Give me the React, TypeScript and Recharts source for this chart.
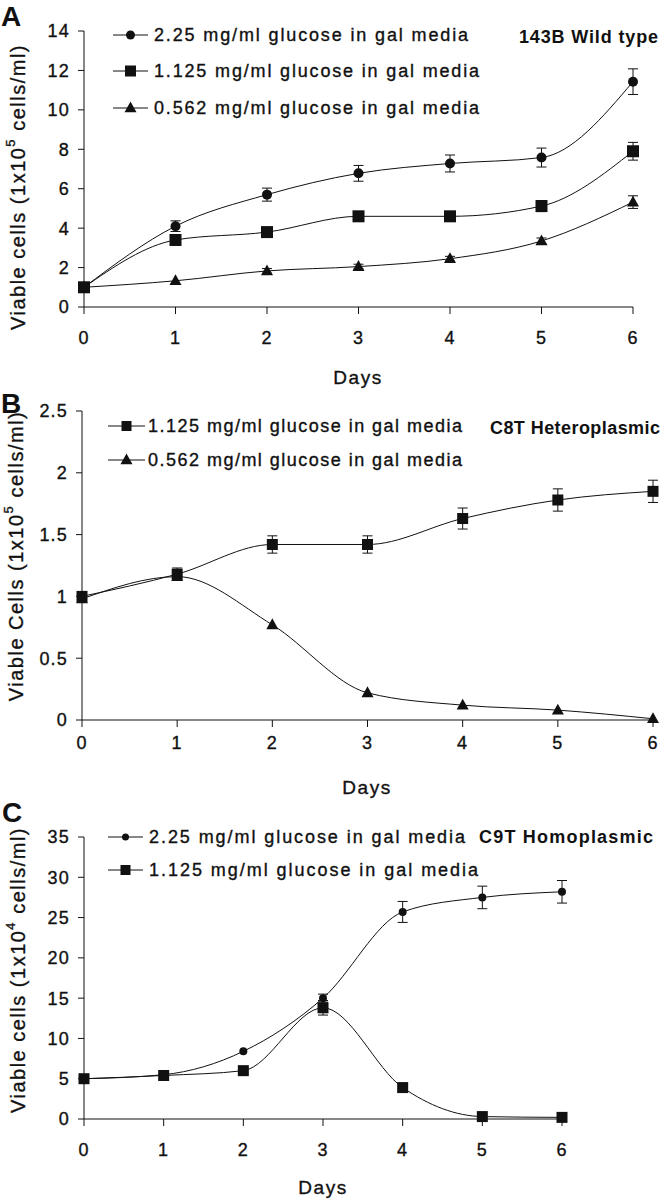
import React from "react";
import { LineChart, Line, XAxis, YAxis, ErrorBar } from "recharts";

const days = [0, 1, 2, 3, 4, 5, 6];

const legendNames = [
  "2.25 mg/ml glucose in gal media",
  "1.125 mg/ml glucose in gal media",
  "0.562 mg/ml glucose in gal media",
];

const panelTitles = ["143B Wild type", "C8T Heteroplasmic", "C9T Homoplasmic"];
const panelLetters = ["A", "B", "C"];

// A: 143B wild type (x10^5 cells/ml)
const wt225 = [1.0, 4.1, 5.7, 6.78, 7.28, 7.58, 11.43];
const wt225Err = [null, 0.27, 0.33, 0.4, 0.43, 0.48, 0.65];
const wt1125 = [1.0, 3.4, 3.8, 4.6, 4.6, 5.12, 7.9];
const wt1125Err = [null, 0.2, 0.15, 0.2, 0.2, 0.28, 0.45];
const wt0562 = [1.0, 1.33, 1.83, 2.05, 2.45, 3.35, 5.32];
const wt0562Err = [null, null, 0.12, 0.12, 0.12, 0.15, 0.32];

// B: C8T heteroplasmic (x10^5 cells/ml)
const het1125 = [1.0, 1.18, 1.42, 1.42, 1.63, 1.78, 1.85];
const het1125Err = [null, 0.05, 0.07, 0.07, 0.085, 0.09, 0.09];
const het0562 = [0.98, 1.16, 0.77, 0.22, 0.12, 0.08, 0.01];
const het0562Err = [null, null, null, null, null, null, null];

// C: C9T homoplasmic (x10^4 cells/ml)
const hom225 = [5.0, 5.5, 8.4, 15.0, 25.7, 27.5, 28.2];
const hom225Err = [null, null, null, 0.5, 1.3, 1.4, 1.4];
const hom1125 = [5.0, 5.4, 6.0, 13.8, 3.9, 0.3, 0.2];
const hom1125Err = [null, null, 0.3, 0.9, null, null, null];

const ticksA = [0, 2, 4, 6, 8, 10, 12, 14];
const ticksB = [0, 0.5, 1, 1.5, 2, 2.5];
const ticksC = [0, 5, 10, 15, 20, 25, 30, 35];

const FONT = "'Liberation Sans', Arial, Helvetica, sans-serif";
const INK = "#111";
const W = 661;
// thin outline to give the text the heavier look of the scanned figure
const HEAVY = { stroke: INK, strokeWidth: 0.35 };

type Shape = "circle" | "square" | "triangle";

const Mark = ({ shape, x, y, size }: { shape: Shape; x: number; y: number; size: number }) => {
  if (shape === "circle") return <circle cx={x} cy={y} r={size / 2} fill={INK} />;
  if (shape === "square")
    return <rect x={x - size / 2} y={y - size / 2} width={size} height={size} fill={INK} />;
  const h = size * 0.9;
  return (
    <polygon
      points={`${x},${y - h * 0.6} ${x - size / 2},${y + h * 0.4} ${x + size / 2},${y + h * 0.4}`}
      fill={INK}
    />
  );
};

const dotFor = (shape: Shape, size: number) => (props: any) => {
  const { cx, cy, index } = props;
  if (cx == null || cy == null) return <g key={`e-${shape}-${index}`} />;
  return (
    <g key={`d-${shape}-${index}`}>
      <Mark shape={shape} x={cx} y={cy} size={size} />
    </g>
  );
};

interface SeriesDef {
  key: string;
  values: number[];
  errors: (number | null)[];
  shape: Shape;
  size: number;
}

interface PanelProps {
  series: SeriesDef[];
  ticks: number[];
  top: number;
  height: number;
  plotTop: number;
  plotBottom: number;
  left: number;
  right: number;
  xTickMargin: number;
}

const tickStyle = { fill: INK, fontSize: 18, fontFamily: FONT, letterSpacing: 1.2, ...HEAVY };

const Panel = ({ series, ticks, top, height, plotTop, plotBottom, left, right, xTickMargin }: PanelProps) => {
  const data = days.map((d, i) => {
    const row: any = { day: d };
    series.forEach((s) => {
      row[s.key] = s.values[i];
      row[s.key + "Err"] = s.errors[i];
    });
    return row;
  });

  return (
    <div style={{ position: "absolute", top, left: 0 }}>
      <LineChart
        width={W}
        height={height}
        data={data}
        margin={{
          top: plotTop - top,
          right: W - right,
          bottom: height - (plotBottom - top) - 30,
          left: 0,
        }}
      >
        <XAxis
          dataKey="day"
          type="number"
          domain={[0, 6]}
          ticks={days}
          interval={0}
          height={30}
          tickSize={7}
          tickMargin={xTickMargin}
          stroke={INK}
          tick={tickStyle}
        />
        <YAxis
          type="number"
          domain={[0, ticks[ticks.length - 1]]}
          ticks={ticks}
          interval={0}
          width={left}
          tickSize={6}
          tickMargin={8}
          stroke={INK}
          tick={tickStyle}
        />
        {series.map((s) => (
          <Line
            key={s.key}
            dataKey={s.key}
            type="monotone"
            stroke={INK}
            strokeWidth={1}
            dot={dotFor(s.shape, s.size)}
            activeDot={false}
            isAnimationActive={false}
          >
            <ErrorBar dataKey={s.key + "Err"} width={5} stroke={INK} strokeWidth={1} direction="y" />
          </Line>
        ))}
      </LineChart>
    </div>
  );
};

interface LegendRow {
  name: string;
  shape: Shape;
  size: number;
  y: number;
  len: number;
}

const Legend = ({ rows, x0, x1, textX }: { rows: LegendRow[]; x0: number; x1: number; textX: number }) => (
  <g>
    {rows.map((r) => (
      <g key={r.name + r.y}>
        <line x1={x0} x2={x1} y1={r.y} y2={r.y} stroke={INK} strokeWidth={1} />
        <Mark shape={r.shape} x={(x0 + x1) / 2} y={r.y} size={r.size} />
        <text
          x={textX}
          y={r.y}
          dominantBaseline="central"
          fontSize={18}
          textLength={r.len}
          lengthAdjust="spacing"
          fill={INK}
          {...HEAVY}
        >
          {r.name}
        </text>
      </g>
    ))}
  </g>
);

const YLabel = ({ cx, cy, word, exp }: { cx: number; cy: number; word: string; exp: string }) => (
  <text
    transform={`translate(${cx},${cy}) rotate(-90)`}
    textAnchor="middle"
    dominantBaseline="central"
    fontSize={20}
    letterSpacing={1.5}
    fill={INK}
    {...HEAVY}
  >
    <tspan>{`Viable ${word} (1x10`}</tspan>
    <tspan dy={-8} fontSize={13}>
      {exp}
    </tspan>
    <tspan dy={8}>{" cells/ml)"}</tspan>
  </text>
);

const Overlay = () => (
  <svg
    width={W}
    height={1199}
    style={{ position: "absolute", top: 0, left: 0, pointerEvents: "none" }}
    fontFamily={FONT}
  >
    {/* panel letters */}
    <text x={1} y={26} fontSize={28} fontWeight="bold" fill={INK}>
      {panelLetters[0]}
    </text>
    <text x={1} y={413} fontSize={28} fontWeight="bold" fill={INK}>
      {panelLetters[1]}
    </text>
    <text x={2} y={822} fontSize={28} fontWeight="bold" fill={INK}>
      {panelLetters[2]}
    </text>

    {/* titles */}
    <text x={519} y={37} dominantBaseline="central" fontSize={18} fontWeight="bold" textLength={139} lengthAdjust="spacing" fill={INK}>
      {panelTitles[0]}
    </text>
    <text x={490} y={428} dominantBaseline="central" fontSize={18} fontWeight="bold" textLength={170} lengthAdjust="spacing" fill={INK}>
      {panelTitles[1]}
    </text>
    <text x={479} y={837} dominantBaseline="central" fontSize={18} fontWeight="bold" textLength={174} lengthAdjust="spacing" fill={INK}>
      {panelTitles[2]}
    </text>

    {/* legends */}
    <Legend
      x0={113}
      x1={148}
      textX={154}
      rows={[
        { name: legendNames[0], shape: "circle", size: 9, y: 35, len: 314 },
        { name: legendNames[1], shape: "square", size: 11, y: 71, len: 325 },
        { name: legendNames[2], shape: "triangle", size: 12, y: 108, len: 325 },
      ]}
    />
    <Legend
      x0={108}
      x1={145}
      textX={148}
      rows={[
        { name: legendNames[1], shape: "square", size: 10, y: 426, len: 314 },
        { name: legendNames[2], shape: "triangle", size: 12, y: 460, len: 314 },
      ]}
    />
    <Legend
      x0={108}
      x1={143}
      textX={149}
      rows={[
        { name: legendNames[0], shape: "circle", size: 7, y: 837, len: 316 },
        { name: legendNames[1], shape: "square", size: 10, y: 870, len: 329 },
      ]}
    />

    {/* axis titles */}
    <YLabel cx={18} cy={187} word="cells" exp="5" />
    <YLabel cx={16} cy={556} word="Cells" exp="5" />
    <YLabel cx={18} cy={970} word="cells" exp="4" />

    <text x={358} y={377} textAnchor="middle" dominantBaseline="central" fontSize={19} letterSpacing={1.5} fill={INK} {...HEAVY}>
      Days
    </text>
    <text x={367} y={787} textAnchor="middle" dominantBaseline="central" fontSize={19} letterSpacing={1.5} fill={INK} {...HEAVY}>
      Days
    </text>
    <text x={323} y={1187} textAnchor="middle" dominantBaseline="central" fontSize={19} letterSpacing={1.5} fill={INK} {...HEAVY}>
      Days
    </text>
  </svg>
);

export default function App() {
  return (
    <div
      style={{
        position: "absolute",
        top: 0,
        left: 0,
        width: W,
        height: 1199,
        background: "#fff",
        fontFamily: FONT,
        overflow: "hidden",
      }}
    >
      <Panel
        top={0}
        height={395}
        plotTop={31}
        plotBottom={307}
        left={84}
        right={633}
        ticks={ticksA}
        xTickMargin={17}
        series={[
          { key: "wt225", values: wt225, errors: wt225Err, shape: "circle", size: 10 },
          { key: "wt1125", values: wt1125, errors: wt1125Err, shape: "square", size: 12 },
          { key: "wt0562", values: wt0562, errors: wt0562Err, shape: "triangle", size: 12 },
        ]}
      />
      <Panel
        top={395}
        height={400}
        plotTop={411}
        plotBottom={720}
        left={82}
        right={653}
        ticks={ticksB}
        xTickMargin={9}
        series={[
          { key: "het1125", values: het1125, errors: het1125Err, shape: "square", size: 11 },
          { key: "het0562", values: het0562, errors: het0562Err, shape: "triangle", size: 12 },
        ]}
      />
      <Panel
        top={795}
        height={404}
        plotTop={837}
        plotBottom={1119}
        left={84}
        right={562}
        ticks={ticksC}
        xTickMargin={17}
        series={[
          { key: "hom225", values: hom225, errors: hom225Err, shape: "circle", size: 8 },
          { key: "hom1125", values: hom1125, errors: hom1125Err, shape: "square", size: 11 },
        ]}
      />
      <Overlay />
    </div>
  );
}
